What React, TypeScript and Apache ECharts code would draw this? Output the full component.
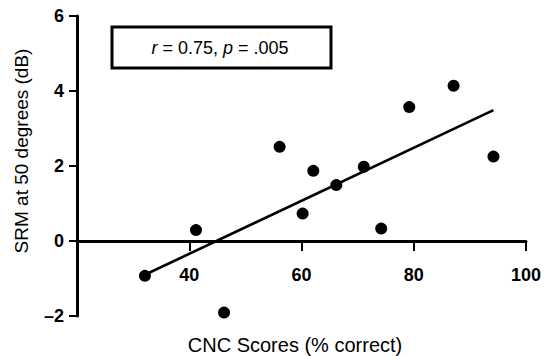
import React, { useEffect, useRef } from "react";
import * as echarts from "echarts";

const cncScores = [32.1, 41.2, 46.2, 56.1, 60.2, 62.1, 66.2, 71.1, 74.2, 79.2, 87.1, 94.2];
const srmValues = [-0.93, 0.29, -1.91, 2.51, 0.73, 1.87, 1.49, 1.98, 0.33, 3.57, 4.14, 2.25];
const fitX = [32.1, 94.2];
const fitY = [-0.9, 3.49];
const statsLabel = "{i|r} = 0.75, {i|p} = .005";
const xTitle = "CNC Scores (% correct)";
const yTitle = "SRM at 50 degrees (dB)";

const FONT = "'Liberation Sans', Arial, Helvetica, sans-serif";

export default function App() {
  const ref = useRef<HTMLDivElement>(null);
  useEffect(() => {
    if (!ref.current) return;
    const chart = echarts.init(ref.current, undefined, { renderer: "svg" });
    const labelStyle = {
      color: "#000",
      fontSize: 18,
      fontWeight: 700,
      fontFamily: FONT,
    };
    chart.setOption({
      animation: false,
      backgroundColor: "#ffffff",
      grid: [
        { left: 77, right: 19, top: 16, bottom: 40, containLabel: false },
        { left: 77, right: 19, top: 16, height: 225, containLabel: false },
      ],
      xAxis: [
        {
          type: "value",
          gridIndex: 0,
          min: 20,
          max: 100,
          interval: 20,
          show: false,
        },
        {
          type: "value",
          gridIndex: 1,
          min: 20,
          max: 100,
          interval: 20,
          position: "bottom",
          splitLine: { show: false },
          axisLine: { onZero: false, lineStyle: { color: "#000", width: 3 } },
          axisTick: { show: true, inside: false, length: 10, lineStyle: { color: "#000", width: 2 } },
          axisLabel: {
            ...labelStyle,
            showMinLabel: false,
            margin: 25,
            formatter: (v: number) => (v === 20 ? "" : String(v)),
          },
        },
      ],
      yAxis: [
        {
          type: "value",
          gridIndex: 0,
          min: -2,
          max: 6,
          interval: 2,
          splitLine: { show: false },
          axisLine: { onZero: false, lineStyle: { color: "#000", width: 3 } },
          axisTick: { show: true, inside: false, length: 8, lineStyle: { color: "#000", width: 2 } },
          axisLabel: {
            ...labelStyle,
            margin: 13,
            formatter: (v: number) => (v < 0 ? "\u2013" + Math.abs(v) : String(v)),
          },
        },
        {
          type: "value",
          gridIndex: 1,
          min: 0,
          max: 1,
          show: false,
        },
      ],
      series: [
        {
          type: "line",
          xAxisIndex: 0,
          yAxisIndex: 0,
          data: fitX.map((x, i) => [x, fitY[i]]),
          showSymbol: false,
          symbol: "none",
          lineStyle: { color: "#000", width: 2.6, opacity: 1 },
          z: 2,
        },
        {
          type: "scatter",
          xAxisIndex: 0,
          yAxisIndex: 0,
          data: cncScores.map((x, i) => [x, srmValues[i]]),
          symbol: "circle",
          symbolSize: 12,
          itemStyle: { color: "#000", opacity: 1 },
          z: 3,
        },
      ],
      graphic: [
        {
          type: "rect",
          shape: { x: 112, y: 27, width: 219, height: 41 },
          style: { fill: "#fff", stroke: "#000", lineWidth: 3 },
          z: 10,
        },
        {
          type: "text",
          x: 220,
          y: 47.5,
          z: 11,
          style: {
            text: statsLabel,
            align: "center",
            verticalAlign: "middle",
            fontSize: 18,
            fontFamily: FONT,
            fill: "#000",
            rich: {
              i: { fontStyle: "italic", fontSize: 18, fontFamily: FONT, fill: "#000" },
            },
          },
        },
        {
          type: "text",
          x: 295,
          y: 345,
          style: {
            text: xTitle,
            align: "center",
            verticalAlign: "middle",
            fontSize: 20,
            fontFamily: FONT,
            fill: "#000",
          },
        },
        {
          type: "text",
          x: 21,
          y: 151,
          rotation: Math.PI / 2,
          style: {
            text: yTitle,
            align: "center",
            verticalAlign: "middle",
            fontSize: 19,
            fontFamily: FONT,
            fill: "#000",
          },
        },
      ],
    });
    return () => chart.dispose();
  }, []);
  return (
    <div
      ref={ref}
      style={{ width: 545, height: 356, position: "absolute", left: 0, top: 0 }}
    />
  );
}
